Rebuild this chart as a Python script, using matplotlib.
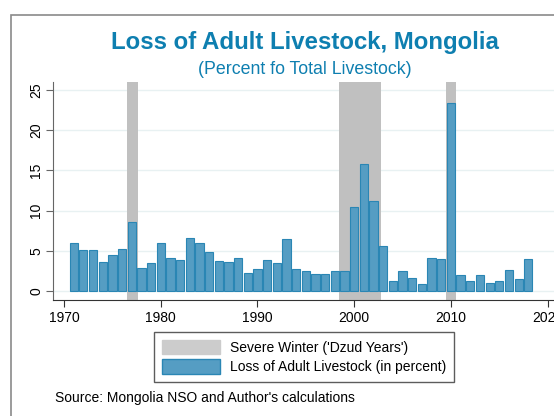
import matplotlib
matplotlib.use('Agg')
import matplotlib.pyplot as plt
from matplotlib.patches import Patch, Rectangle

plt.rcParams['font.family'] = ['Liberation Sans', 'DejaVu Sans']

years = list(range(1971, 2019))
loss = [6.0, 5.1, 5.15, 3.6, 4.45, 5.2, 8.6, 2.86, 3.5, 6.0,
        4.1, 3.86, 6.6, 5.97, 4.85, 3.73, 3.6, 4.15, 2.28, 2.74,
        3.8, 3.5, 6.47, 2.78, 2.53, 2.1, 2.1, 2.5, 2.45, 10.46,
        15.8, 11.2, 5.56, 1.2, 2.45, 1.6, 0.87, 4.1, 4.0, 23.4,
        2.0, 1.24, 2.0, 0.95, 1.24, 2.6, 1.5, 4.0]

# dzud (severe winter) spans
dzud_start = [1976.5, 1998.4, 2009.5]
dzud_end = [1977.6, 2002.8, 2010.55]

title_color = '#0e7fb0'
bar_fill = '#559dc3'
bar_edge = '#2a86b4'

W, H = 554, 416
fig = plt.figure(figsize=(W / 100, H / 100), dpi=100)

# outer frame (cut off at right and bottom)
fig.patches.append(Rectangle((11 / W, -0.1), 1.2, (H - 15) / H + 0.1,
                             transform=fig.transFigure, fill=False,
                             edgecolor='#8a8a8a', linewidth=1.2))

ax = fig.add_axes([53 / W, (H - 300) / H, (567 - 53) / W, (300 - 82) / H])

for s, e in zip(dzud_start, dzud_end):
    ax.axvspan(s, e, color='#c0c0c0', linewidth=0, zorder=1)

ax.bar(years, loss, width=0.85, color=bar_fill, edgecolor=bar_edge,
       linewidth=0.8, zorder=2)

ax.set_xlim(1968.86, 2022)
ax.set_ylim(-1.12, 26.0)
ax.set_yticks([0, 5, 10, 15, 20, 25])
ax.set_xticks([1970, 1980, 1990, 2000, 2010, 2020])
ax.yaxis.grid(True, color='#e8f1f2', linewidth=1.0, zorder=0)
ax.set_axisbelow(True)

for side in ['top', 'right']:
    ax.spines[side].set_visible(False)
ax.spines['left'].set_color('#666666')
ax.spines['bottom'].set_color('#333333')
ax.tick_params(axis='y', length=5, color='#666666', labelsize=10, pad=2)
ax.tick_params(axis='x', length=5, color='#333333', labelsize=10, pad=3)
for lab in ax.get_yticklabels():
    lab.set_rotation(90)
    lab.set_va('center')

fig.text(305 / W, (H - 43) / H, 'Loss of Adult Livestock, Mongolia',
         ha='center', va='center', fontsize=17.3, fontweight='bold',
         color=title_color)
fig.text(305 / W, (H - 70) / H, '(Percent fo Total Livestock)',
         ha='center', va='center', fontsize=12.8, color=title_color)

handles = [Patch(facecolor='#cccccc', edgecolor='#cccccc'),
           Patch(facecolor=bar_fill, edgecolor=bar_edge)]
labels = ["Severe Winter ('Dzud Years')", 'Loss of Adult Livestock (in percent)']
leg = fig.legend(handles, labels, loc='center', bbox_to_anchor=(304 / W, (H - 357) / H),
                 fontsize=10, frameon=True, fancybox=False, edgecolor='#333333',
                 handlelength=4.2, handleheight=1.2, borderpad=0.55,
                 labelspacing=0.35, handletextpad=0.7)
leg.get_frame().set_linewidth(1.0)

fig.text(55 / W, (H - 398) / H, "Source: Mongolia NSO and Author's calculations",
         ha='left', va='center', fontsize=10)

fig.savefig('out.png', dpi=100)
